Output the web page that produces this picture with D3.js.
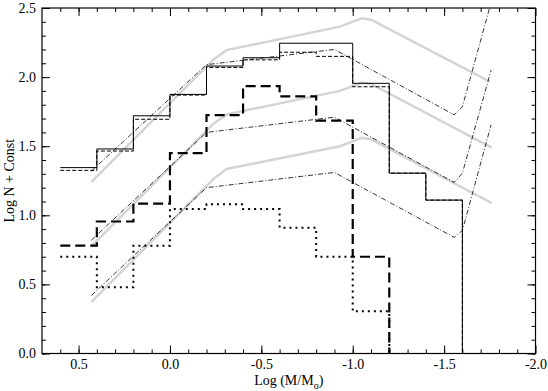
<!DOCTYPE html>
<html>
<head>
<meta charset="utf-8">
<script src="https://d3js.org/d3.v7.min.js"></script>
<style>
  * { margin: 0; padding: 0; }
  body { background: #fff; }
  .axis path.domain { display: none; }
  .axis line { stroke: #000; stroke-width: 1; }
</style>
</head>
<body>
<div id="chart"></div>
<script>
// histogram bin edges (log M), 0.2 wide
const binEdges = [0.6, 0.4, 0.2, 0.0, -0.2, -0.4, -0.6, -0.8, -1.0, -1.2, -1.4, -1.6];

// histogram heights per bin
const solidHist   = [1.345, 1.48, 1.72, 1.875, 2.08, 2.14, 2.245, 2.245, 1.955, 1.305, 1.11];
const thinDashHist = [1.325, 1.465, 1.695, 1.87, 2.07, 2.125, 2.18, 2.15, 1.93, 1.305, 1.11];
const thickDashHist = [0.78, 0.955, 1.085, 1.45, 1.725, 1.935, 1.86, 1.685, 0.70];
const dottedHist  = [0.70, 0.48, 0.78, 1.045, 1.08, 1.045, 0.91, 0.70, 0.305];

// model curves (grey) : [logM, logN]
const greyTop = [[0.43, 1.24], [-0.24, 2.13], [-0.31, 2.195], [-0.93, 2.365], [-1.05, 2.425], [-1.10, 2.415], [-1.75, 1.967]];
const greyMid = [[0.43, 0.775], [-0.24, 1.665], [-0.31, 1.73], [-0.93, 1.90], [-1.05, 1.96], [-1.10, 1.95], [-1.76, 1.49]];
const greyBot = [[0.43, 0.371], [-0.24, 1.265], [-0.31, 1.335], [-0.93, 1.50], [-1.05, 1.56], [-1.10, 1.55], [-1.76, 1.089]];

// dash-dot curves
const dashDotTop = [[0.43, 1.32], [-0.2, 2.09], [-0.9, 2.20], [-1.555, 1.727], [-1.60, 1.785], [-1.757, 2.54]];
const dashDotMid = [[0.43, 0.82], [-0.2, 1.60], [-0.9, 1.71], [-1.555, 1.238], [-1.60, 1.305], [-1.757, 2.05]];
const dashDotBot = [[0.43, 0.42], [-0.2, 1.20], [-0.9, 1.31], [-1.555, 0.84], [-1.60, 0.89], [-1.757, 1.655]];

const xMajor = [0.5, 0.0, -0.5, -1.0, -1.5, -2.0];
const xMinor = d3.range(6, -20, -1).map(d => d / 10);
const yMajor = [0.0, 0.5, 1.0, 1.5, 2.0, 2.5];
const yMinor = d3.range(0, 26).map(d => d / 10);

const W = 548, H = 391;
const mLeft = 42, mRight = 535.5, mTop = 8, mBottom = 353.5;
const serif = "'Liberation Serif', 'Times New Roman', Times, serif";

const x = d3.scaleLinear().domain([0.7, -2.0]).range([mLeft, mRight]);
const y = d3.scaleLinear().domain([0, 2.5]).range([mBottom, mTop]);

const svg = d3.select("#chart").append("svg")
  .attr("width", W).attr("height", H);

svg.append("clipPath").attr("id", "clip")
  .append("rect").attr("x", mLeft).attr("y", mTop)
  .attr("width", mRight - mLeft).attr("height", mBottom - mTop);

const fmt = d => d.toFixed(1);

// axes: minor ticks first, major with labels
function addAxis(axisFn, scale, vals, size, labels, tx, ty) {
  const a = axisFn(scale).tickValues(vals).tickSize(-size).tickPadding(6)
    .tickFormat(labels ? fmt : "");
  const g = svg.append("g").attr("class", "axis")
    .attr("transform", `translate(${tx},${ty})`).call(a)
    .attr("font-family", serif).attr("font-size", 14);
  g.selectAll("text").attr("fill", "#000");
  return g;
}
addAxis(d3.axisBottom, x, xMinor, 4, false, 0, mBottom);
addAxis(d3.axisBottom, x, xMajor, 8, true, 0, mBottom);
addAxis(d3.axisTop, x, xMinor, 4, false, 0, mTop);
addAxis(d3.axisTop, x, xMajor, 8, false, 0, mTop);
addAxis(d3.axisLeft, y, yMinor, 4, false, mLeft, 0);
addAxis(d3.axisLeft, y, yMajor, 8, true, mLeft, 0);
addAxis(d3.axisRight, y, yMinor, 4, false, mRight, 0);
addAxis(d3.axisRight, y, yMajor, 8, false, mRight, 0);

const plot = svg.append("g").attr("clip-path", "url(#clip)");
const line = d3.line().x(d => x(d[0])).y(d => y(d[1]));

// grey model curves
[greyTop, greyMid, greyBot].forEach(pts => {
  plot.append("path").attr("d", line(pts))
    .attr("fill", "none").attr("stroke", "#d4d4d4").attr("stroke-width", 2.5);
});

// dash-dot curves
[dashDotTop, dashDotMid, dashDotBot].forEach(pts => {
  plot.append("path").attr("d", line(pts))
    .attr("fill", "none").attr("stroke", "#000").attr("stroke-width", 0.8)
    .attr("stroke-dasharray", "5,2,1,2");
});

// step histograms: horizontal tops, drop to zero at the last edge
function histPts(vals) {
  const pts = [];
  vals.forEach((v, i) => {
    pts.push([binEdges[i], v]);
    pts.push([binEdges[i + 1], v]);
  });
  pts.push([binEdges[vals.length], 0]);
  return pts;
}

plot.append("path").attr("d", line(histPts(dottedHist)))
  .attr("fill", "none").attr("stroke", "#000").attr("stroke-width", 2)
  .attr("stroke-dasharray", "2,4");
plot.append("path").attr("d", line(histPts(thickDashHist)))
  .attr("fill", "none").attr("stroke", "#000").attr("stroke-width", 2.2)
  .attr("stroke-dasharray", "10,5");
plot.append("path").attr("d", line(histPts(thinDashHist)))
  .attr("fill", "none").attr("stroke", "#000").attr("stroke-width", 1)
  .attr("stroke-dasharray", "4,2");
plot.append("path").attr("d", line(histPts(solidHist)))
  .attr("fill", "none").attr("stroke", "#000").attr("stroke-width", 1);

// frame
svg.append("rect").attr("x", mLeft).attr("y", mTop)
  .attr("width", mRight - mLeft).attr("height", mBottom - mTop)
  .attr("fill", "none").attr("stroke", "#000").attr("stroke-width", 1.2);

// axis titles
const xt = svg.append("text").attr("x", (mLeft + mRight) / 2).attr("y", 385)
  .attr("text-anchor", "middle").attr("font-family", serif).attr("font-size", 14);
xt.append("tspan").text("Log (M/M");
xt.append("tspan").attr("dy", 4).attr("font-size", 10).text("o");
xt.append("tspan").attr("dy", -4).text(")");

svg.append("text")
  .attr("transform", `translate(14,${(mTop + mBottom) / 2}) rotate(-90)`)
  .attr("text-anchor", "middle").attr("font-family", serif).attr("font-size", 14)
  .text("Log N + Const");
</script>
</body>
</html>
